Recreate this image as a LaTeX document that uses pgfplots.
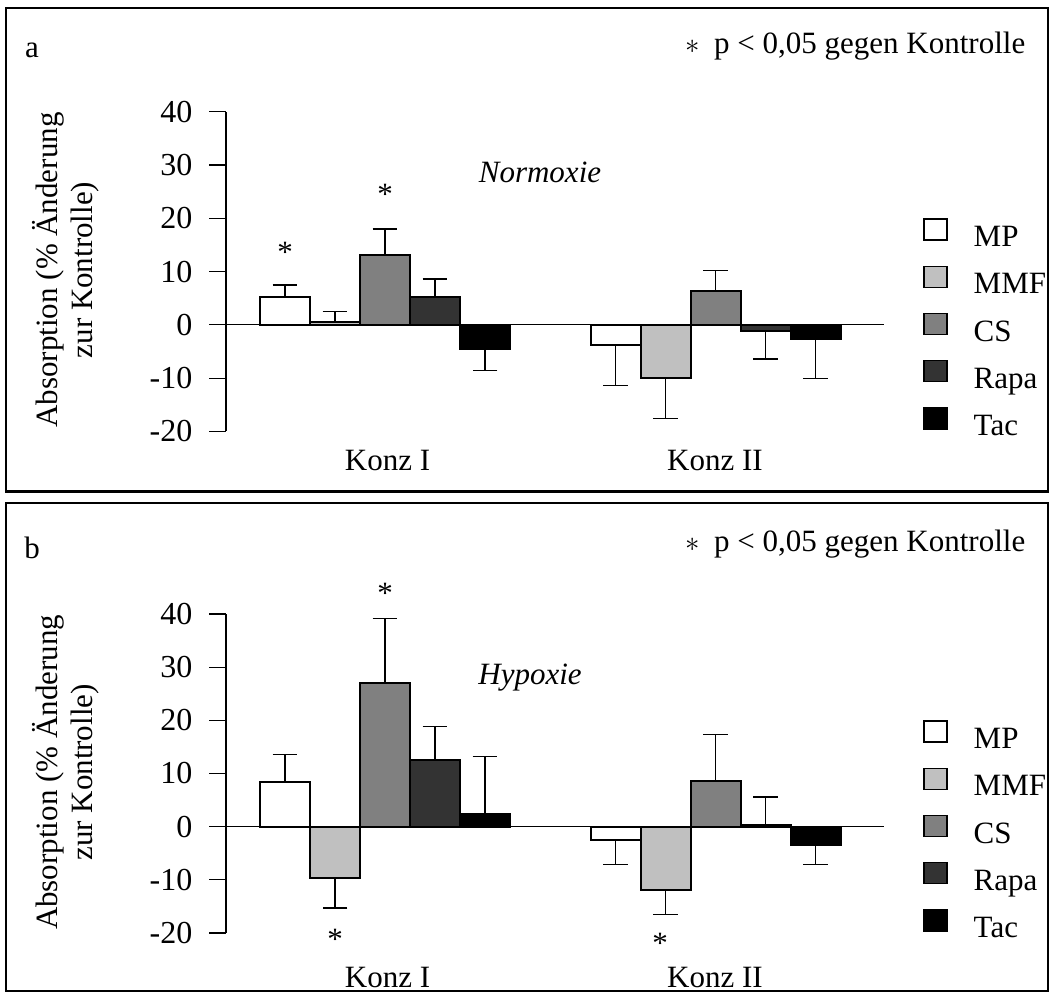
\documentclass[border=0pt]{standalone}
\usepackage{pgfplots}
\pgfplotsset{compat=1.18}
\usepackage{fontspec}
\setmainfont{Liberation Serif}
\definecolor{cMP}{gray}{1}
\definecolor{cMMF}{HTML}{C0C0C0}
\definecolor{cCS}{HTML}{808080}
\definecolor{cRapa}{HTML}{333333}
\definecolor{cTac}{HTML}{000000}
\pgfplotsset{
 sq legend/.style={legend image code/.code={\draw[##1, line width=0.7pt] (0pt,-0.5pt) rectangle (11.5pt,10pt);}},
 panel/.style={
  scale only axis, width=329pt, height=159.9pt,
  xmin=-3.18, xmax=9.98, ymin=-20, ymax=40,
  axis x line*=middle, axis y line*=left,
  xtick=\empty, ytick={-20,-10,0,10,20,30,40},
  yticklabels={-20,-10,0,10,20,30,40},
  tick align=outside, major tick length=8.5pt,
  tick style={line width=0.6pt, black},
  axis line style={line width=0.6pt, black},
  yticklabel style={xshift=-3pt, font=\fontsize{16pt}{18pt}\selectfont},
  ybar=0pt, bar width=1,
  clip=false,
  every axis plot/.append style={sq legend, draw=black, line width=1pt},
  error bars/y dir=both, error bars/y explicit,
  error bars/error bar style={line width=0.6pt, black},
  error bars/error mark options={rotate=90, mark size=6.2pt, line width=0.6pt, black},
  legend style={draw=none, fill=none, at={(1.05,0.68)}, anchor=north west,
    row sep=6pt, nodes={inner sep=0pt, text height=11pt, text depth=3.5pt},
    /tikz/every odd column/.style={column sep=13pt}},
  legend cell align=left,
 }
}
\begin{document}
\fontsize{15.5pt}{17.5pt}\selectfont
\begin{tikzpicture}[font=\fontsize{15.5pt}{17.5pt}\selectfont]
\path (0,0) rectangle (526.5pt,497pt);
% frames
\draw[line width=1.2pt] (3pt,251.15pt) rectangle (524pt,493pt);
\draw[line width=1.2pt] (3pt,1.5pt) rectangle (524pt,245.5pt);
% panel labels and notes
\node at (16pt,472pt) {a};
\node[anchor=east] at (518pt,474pt) {$\ast$\hspace{7pt}p < 0,05 gegen Kontrolle};
\node[rotate=90, align=center] at (33pt,362pt) {Absorption (\% Änderung\\zur Kontrolle)};
\node at (16pt,223pt) {b};
\node[anchor=east] at (518pt,225pt) {$\ast$\hspace{7pt}p < 0,05 gegen Kontrolle};
\node[rotate=90, align=center] at (33pt,110.8pt) {Absorption (\% Änderung\\zur Kontrolle)};

\begin{axis}[panel, at={(113pt,281.25pt)}, anchor=south west]
\addplot[fill=cMP] coordinates {(0,5.3) += (0,2.2) -= (0,0) (6.61,-3.8) += (0,0) -= (0,7.5)};
\addplot[fill=cMMF] coordinates {(0,0.5) += (0,2.0) -= (0,0) (6.61,-10.0) += (0,0) -= (0,7.6)};
\addplot[fill=cCS] coordinates {(0,13.1) += (0,4.9) -= (0,0) (6.61,6.4) += (0,3.8) -= (0,0)};
\addplot[fill=cRapa] coordinates {(0,5.3) += (0,3.3) -= (0,0) (6.61,-1.1) += (0,0) -= (0,5.3)};
\addplot[fill=cTac] coordinates {(0,-4.5) += (0,0) -= (0,4.0) (6.61,-2.7) += (0,0) -= (0,7.4)};
\legend{MP,MMF,CS,Rapa,Tac}
\node at (axis cs:-2,13.7) {*};
\node at (axis cs:0,24.4) {*};
\node[font=\fontsize{15.5pt}{17.5pt}\selectfont\itshape] at (axis cs:3.1,28.7) {Normoxie};
\node at (axis cs:0.05,-25.5) {Konz I};
\node at (axis cs:6.6,-25.5) {Konz II};
\end{axis}

\begin{axis}[panel, at={(113pt,30.5pt)}, anchor=south west, height=159.5pt]
\addplot[fill=cMP] coordinates {(0,8.4) += (0,5.2) -= (0,0) (6.61,-2.6) += (0,0) -= (0,4.5)};
\addplot[fill=cMMF] coordinates {(0,-9.7) += (0,0) -= (0,5.6) (6.61,-12.0) += (0,0) -= (0,4.5)};
\addplot[fill=cCS] coordinates {(0,27.1) += (0,12.0) -= (0,0) (6.61,8.6) += (0,8.7) -= (0,0)};
\addplot[fill=cRapa] coordinates {(0,12.5) += (0,6.4) -= (0,0) (6.61,0.4) += (0,5.2) -= (0,0)};
\addplot[fill=cTac] coordinates {(0,2.4) += (0,10.8) -= (0,0) (6.61,-3.5) += (0,0) -= (0,3.6)};
\legend{MP,MMF,CS,Rapa,Tac}
\node at (axis cs:0,43.9) {*};
\node at (axis cs:-1,-21.2) {*};
\node at (axis cs:5.5,-22) {*};
\node[font=\fontsize{15.5pt}{17.5pt}\selectfont\itshape] at (axis cs:2.9,28.1) {Hypoxie};
\node at (axis cs:0.05,-28.4) {Konz I};
\node at (axis cs:6.6,-28.4) {Konz II};
\end{axis}
\end{tikzpicture}
\end{document}
